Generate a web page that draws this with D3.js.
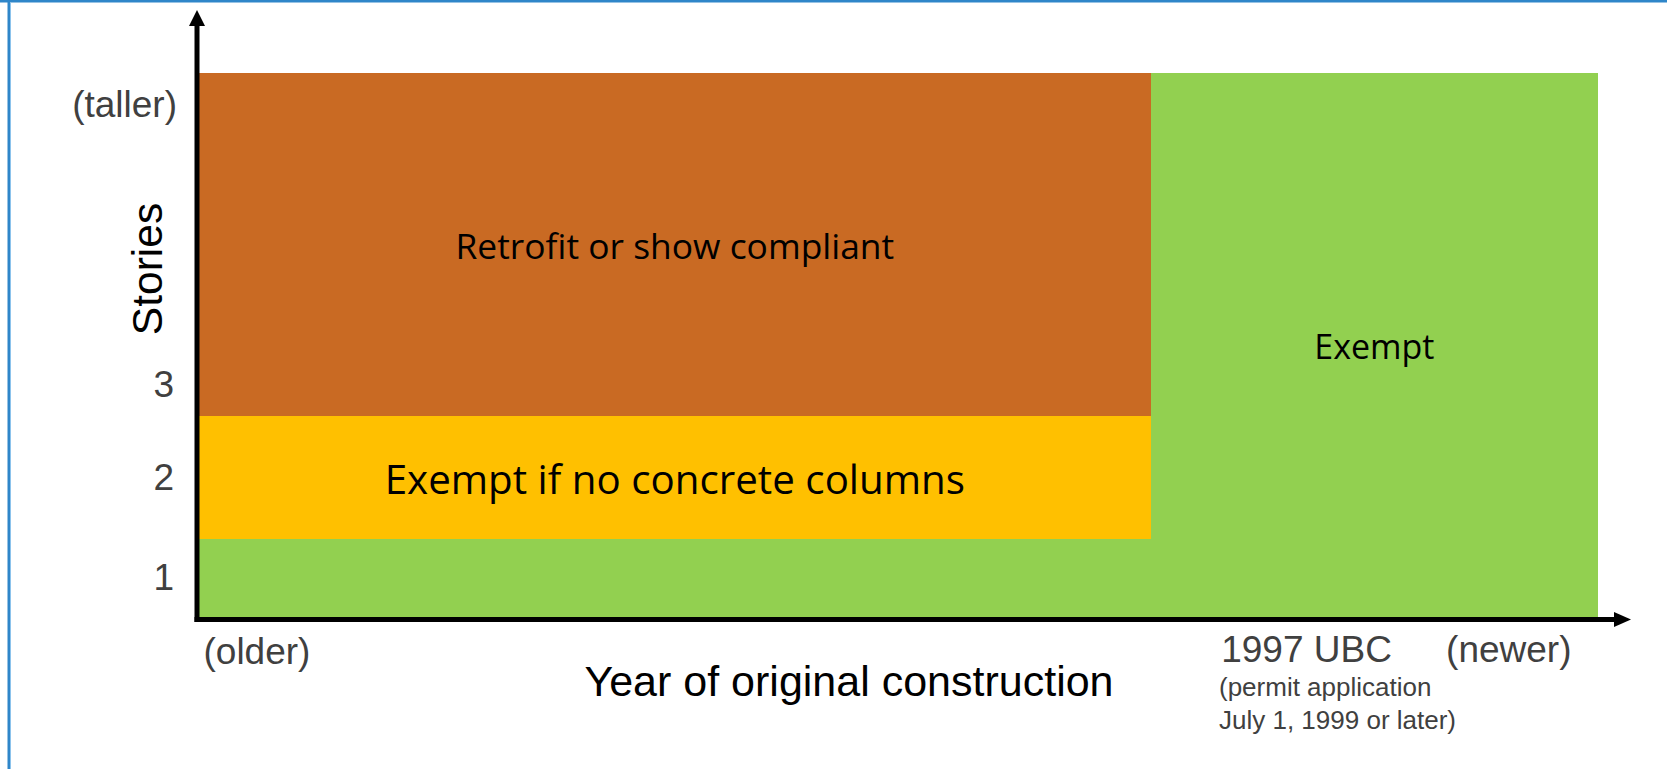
<!DOCTYPE html>
<html>
<head>
<meta charset="utf-8">
<script src="https://cdn.jsdelivr.net/npm/d3@7"></script>
<style>
  body { margin: 0; background: #fff; }
  text { font-family: "Liberation Sans", Arial, sans-serif; }
</style>
</head>
<body>
<svg id="chart" width="1667" height="769"></svg>
<script>
// x runs in "eras": 0 = oldest, 1 = 1997 UBC, eraEnd = newest
var eraEnd = 1.47;
var xTickValues = [0, 1, eraEnd];
var xTickLabels = ["(older)", "1997 UBC", "(newer)"];
var ubcNote = ["(permit application", "July 1, 1999 or later)"];

// y runs in stories (schematic, not to scale above 3)
var storyTop = 6;
var yTickValues = [1, 2, 3, 5.7];
var yTickLabels = ["1", "2", "3", "(taller)"];

// zones of the ordinance
var zoneNames     = ["Exempt", "", "Exempt if no concrete columns", "Retrofit or show compliant"];
var zoneRule      = ["exempt", "exempt", "conditional", "retrofit"];
var zoneEraFrom   = [1, 0, 0, 0];
var zoneEraTo     = [eraEnd, 1, 1, 1];
var zoneStoryFrom = [0.5, 0.5, 1.5, 2.5];
var zoneStoryTo   = [storyTop, 1.5, 2.5, storyTop];

var svg = d3.select("#chart");

var x = d3.scaleLinear()
  .domain([0, eraEnd])
  .range([199, 1598]);

// piecewise: low stories get their own bands, the rest is squeezed
var y = d3.scaleLinear()
  .domain([0.5, 1.5, 2.5, 3, storyTop])
  .range([617, 539, 416, 385, 73]);

var color = d3.scaleOrdinal()
  .domain(["exempt", "conditional", "retrofit"])
  .range(["#92D050", "#FFC000", "#C96A23"]);

// frame (top + left edge of the slide box)
svg.append("rect").attr("x", 0).attr("y", 0).attr("width", 1667).attr("height", 2.5).attr("fill", "#2F86C9");
svg.append("rect").attr("x", 7.5).attr("y", 0).attr("width", 2.5).attr("height", 769).attr("fill", "#2F86C9");
svg.append("rect").attr("x", 10).attr("y", 2.5).attr("width", 1).attr("height", 767).attr("fill", "#8CC3EC");

var zones = zoneNames.map(function(n, i) {
  return { name: n, rule: zoneRule[i], x0: zoneEraFrom[i], x1: zoneEraTo[i], y0: zoneStoryFrom[i], y1: zoneStoryTo[i] };
});

svg.append("g").selectAll("rect")
  .data(zones)
  .enter().append("rect")
    .attr("x", function(d) { return x(d.x0); })
    .attr("y", function(d) { return y(d.y1); })
    .attr("width", function(d) { return x(d.x1) - x(d.x0); })
    .attr("height", function(d) { return y(d.y0) - y(d.y1); })
    .attr("fill", function(d) { return color(d.rule); })
    .attr("shape-rendering", "crispEdges");

var labelSize = { "Exempt": 34, "Exempt if no concrete columns": 40.3, "Retrofit or show compliant": 35.4 };
svg.append("g").selectAll("text")
  .data(zones.filter(function(d) { return d.name != ""; }))
  .enter().append("text")
    .attr("x", function(d) { return (x(d.x0) + x(d.x1)) / 2; })
    .attr("y", function(d) { return (y(d.y0) + y(d.y1)) / 2 + 2; })
    .attr("dy", "0.36em")
    .attr("text-anchor", "middle")
    .style("font-family", "'Segoe UI', 'Open Sans', sans-serif")
    .style("font-size", function(d) { return labelSize[d.name] + "px"; })
    .attr("fill", "#000")
    .text(function(d) { return d.name; });

// y tick labels
var yAxis = d3.axisLeft(y)
  .tickValues(yTickValues)
  .tickFormat(function(d, i) { return yTickLabels[i]; })
  .tickSize(0)
  .tickPadding(20);

var gy = svg.append("g").attr("transform", "translate(197,0)").call(yAxis);
gy.select(".domain").remove();
gy.selectAll("text")
  .attr("fill", "#404040")
  .style("font-family", "'Liberation Sans', Arial, sans-serif")
  .style("font-size", "37px");
gy.selectAll(".tick").filter(function(d) { return d < 4; }).select("text").attr("dx", -3);

// x tick labels
var xAxis = d3.axisBottom(x)
  .tickValues(xTickValues)
  .tickFormat(function(d, i) { return xTickLabels[i]; })
  .tickSize(0)
  .tickPadding(0);

var gx = svg.append("g").attr("transform", "translate(0,619)").call(xAxis);
gx.select(".domain").remove();
var xShift = [4, 70, -27];
var xAnchor = ["start", "start", "end"];
gx.selectAll(".tick text")
  .attr("fill", "#404040")
  .attr("dy", null)
  .attr("y", function(d, i) { return i == 0 ? 45 : 43; })
  .attr("text-anchor", function(d, i) { return xAnchor[i]; })
  .attr("dx", function(d, i) { return xShift[i]; })
  .style("font-family", "'Liberation Sans', Arial, sans-serif")
  .style("font-size", "37px");

svg.append("text")
  .attr("x", 1219)
  .attr("y", 696)
  .attr("fill", "#404040")
  .style("font-size", "26px")
  .selectAll("tspan")
  .data(ubcNote)
  .enter().append("tspan")
    .attr("x", 1219)
    .attr("dy", function(d, i) { return i == 0 ? 0 : 33; })
    .text(function(d) { return d; });

// axis titles
svg.append("text")
  .attr("x", 849)
  .attr("y", 696)
  .attr("text-anchor", "middle")
  .attr("fill", "#000")
  .style("font-size", "43px")
  .text("Year of original construction");

svg.append("text")
  .attr("transform", "translate(162,269) rotate(-90)")
  .attr("text-anchor", "middle")
  .attr("fill", "#000")
  .style("font-size", "42.5px")
  .text("Stories");

// axis lines with arrow heads
svg.append("line")
  .attr("x1", x(0) - 2).attr("y1", 24)
  .attr("x2", x(0) - 2).attr("y2", 622)
  .attr("stroke", "#000").attr("stroke-width", 5);
svg.append("line")
  .attr("x1", x(0) - 4.5).attr("y1", 619.5)
  .attr("x2", 1616).attr("y2", 619.5)
  .attr("stroke", "#000").attr("stroke-width", 5);
svg.append("path")
  .attr("d", "M" + (x(0) - 2) + ",10 L" + (x(0) + 6) + ",26 L" + (x(0) - 10) + ",26 Z")
  .attr("fill", "#000");
svg.append("path")
  .attr("d", "M1631,619.5 L1614,612 L1614,627 Z")
  .attr("fill", "#000");
</script>
</body>
</html>
